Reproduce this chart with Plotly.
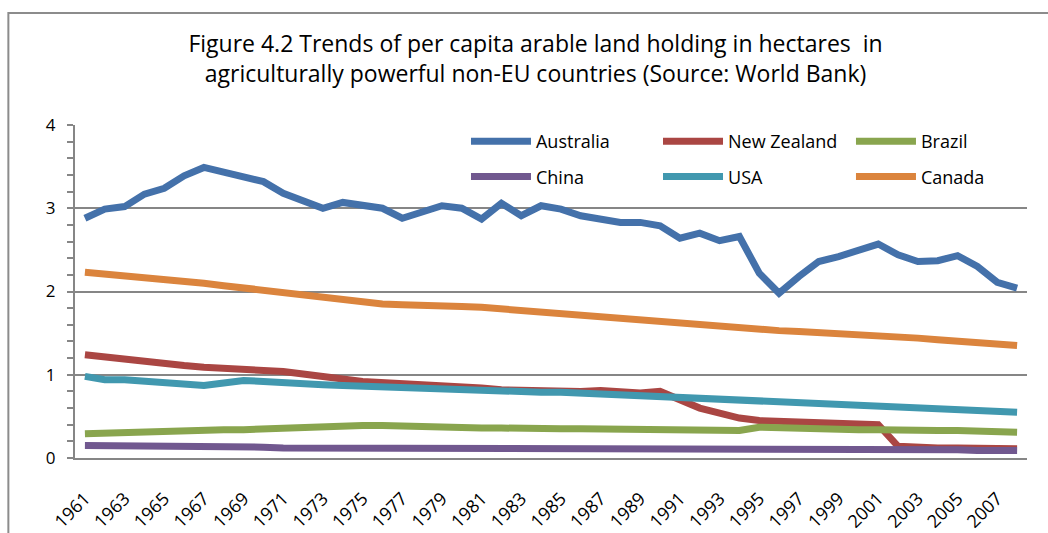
import plotly.graph_objects as go

# Per capita arable land (hectares), 1961-2008
years = list(range(1961, 2009))

australia = [2.88, 2.99, 3.02, 3.17, 3.24, 3.39, 3.49, 3.43, 3.37, 3.32,
             3.18, 3.09, 3.00, 3.07, 3.04, 3.00, 2.88, 2.96, 3.03, 3.00,
             2.87, 3.06, 2.91, 3.03, 2.99, 2.91, 2.87, 2.83, 2.83, 2.79,
             2.64, 2.70, 2.61, 2.66, 2.22, 1.98, 2.18, 2.36, 2.42, 2.49,
             2.57, 2.44, 2.36, 2.37, 2.43, 2.30, 2.11, 2.04]

new_zealand = [1.24, 1.21, 1.18, 1.15, 1.13, 1.11, 1.09, 1.08, 1.06, 1.05,
               1.04, 1.01, 0.97, 0.95, 0.92, 0.91, 0.90, 0.89, 0.88, 0.87,
               0.84, 0.82, 0.81, 0.80, 0.79, 0.80, 0.81, 0.79, 0.78, 0.80,
               0.70, 0.60, 0.54, 0.48, 0.45, 0.44, 0.43, 0.42, 0.42, 0.41,
               0.40, 0.14, 0.12, 0.12, 0.12, 0.11, 0.11, 0.11]

brazil = [0.29, 0.30, 0.31, 0.32, 0.32, 0.33, 0.33, 0.34, 0.34, 0.35,
          0.36, 0.38, 0.38, 0.38, 0.39, 0.39, 0.38, 0.37, 0.37, 0.36,
          0.36, 0.36, 0.35, 0.35, 0.35, 0.35, 0.35, 0.34, 0.34, 0.34,
          0.34, 0.33, 0.33, 0.33, 0.37, 0.36, 0.36, 0.35, 0.35, 0.34,
          0.34, 0.33, 0.33, 0.33, 0.33, 0.32, 0.32, 0.31]

china = [0.15, 0.15, 0.14, 0.14, 0.14, 0.14, 0.13, 0.13, 0.13, 0.13,
         0.12, 0.12, 0.12, 0.12, 0.11, 0.11, 0.11, 0.10, 0.10, 0.10,
         0.10, 0.10, 0.11, 0.11, 0.11, 0.11, 0.11, 0.11, 0.11, 0.11,
         0.11, 0.11, 0.10, 0.10, 0.10, 0.10, 0.10, 0.10, 0.10, 0.10,
         0.10, 0.10, 0.10, 0.10, 0.10, 0.09, 0.09, 0.09]

usa = [0.98, 0.94, 0.94, 0.92, 0.91, 0.89, 0.87, 0.90, 0.93, 0.92,
       0.90, 0.89, 0.88, 0.87, 0.86, 0.86, 0.85, 0.84, 0.84, 0.83,
       0.82, 0.81, 0.80, 0.79, 0.79, 0.78, 0.77, 0.75, 0.75, 0.74,
       0.73, 0.72, 0.71, 0.70, 0.69, 0.67, 0.66, 0.65, 0.64, 0.63,
       0.62, 0.62, 0.61, 0.60, 0.59, 0.57, 0.56, 0.55]

canada = [2.23, 2.21, 2.20, 2.18, 2.16, 2.14, 2.10, 2.07, 2.04, 2.01,
          1.98, 1.95, 1.93, 1.90, 1.87, 1.85, 1.84, 1.84, 1.83, 1.82,
          1.81, 1.79, 1.77, 1.76, 1.75, 1.73, 1.71, 1.69, 1.66, 1.64,
          1.62, 1.60, 1.58, 1.56, 1.55, 1.53, 1.52, 1.51, 1.50, 1.49,
          1.48, 1.46, 1.44, 1.42, 1.40, 1.38, 1.36, 1.35]

# name, values, colour, legend column
series = [
    ("Australia", australia, "#4471AA", "legend"),
    ("New Zealand", new_zealand, "#AA4643", "legend2"),
    ("Brazil", brazil, "#89A54E", "legend3"),
    ("China", china, "#71588F", "legend"),
    ("USA", usa, "#4198AF", "legend2"),
    ("Canada", canada, "#DB843D", "legend3"),
]

FONT = "Open Sans"
GRID = "#868686"

x_range = [years[0] - 0.5, years[-1] + 0.5]
# tick marks sit on the boundaries between the yearly categories
boundaries = [y - 0.5 for y in years] + [years[-1] + 0.5]

fig = go.Figure()
for name, vals, color, leg in series:
    fig.add_trace(go.Scatter(
        x=years, y=vals, name=name, mode="lines",
        line=dict(color=color, width=7),
        legend=leg, legendgroup=name,
    ))

legend_common = dict(
    orientation="v", xanchor="left", yanchor="top", y=1.006,
    font=dict(family=FONT, size=18, color="black"),
    bgcolor="rgba(0,0,0,0)", itemwidth=60, tracegroupgap=9,
)

fig.update_layout(
    width=1048, height=533,
    margin=dict(l=75, r=21, t=125, b=75),
    paper_bgcolor="white", plot_bgcolor="white",
    font=dict(family=FONT, color="black"),
    title=dict(
        text="Figure 4.2 Trends of per capita arable land holding in hectares  in<br>"
             "agriculturally powerful non-EU countries (Source: World Bank)",
        x=0.511, xanchor="center", y=0.903, yanchor="top",
        font=dict(family=FONT, size=23, color="black"),
    ),
    legend=dict(x=0.4107, **legend_common),
    legend2=dict(x=0.6124, **legend_common),
    legend3=dict(x=0.8151, **legend_common),
    xaxis=dict(
        range=x_range, automargin=False,
        tickmode="linear", tick0=years[0], dtick=2,
        tickangle=-45,
        # invisible major ticks keep the year labels clear of the axis
        ticks="outside", ticklen=21, tickcolor="rgba(0,0,0,0)",
        tickfont=dict(family=FONT, size=18, color="black"),
        showgrid=False, zeroline=False,
        showline=True, linecolor=GRID, linewidth=2,
    ),
    xaxis2=dict(
        overlaying="x", anchor="y", side="bottom",
        range=x_range, automargin=False,
        tickmode="array", tickvals=boundaries,
        showticklabels=False,
        ticks="outside", ticklen=6, tickcolor=GRID, tickwidth=1.5,
        showgrid=False, zeroline=False, showline=False,
    ),
    yaxis=dict(
        range=[0, 4], dtick=1, automargin=False,
        ticks="outside", ticklen=6, tickcolor=GRID, tickwidth=1.5,
        ticklabelstandoff=8,
        tickfont=dict(family=FONT, size=17, color="black"),
        showgrid=True, gridcolor=GRID, gridwidth=1.5,
        zeroline=False,
        showline=True, linecolor=GRID, linewidth=2,
        minor=dict(dtick=0.2, ticks="outside", ticklen=6,
                   tickcolor=GRID, tickwidth=1.5, showgrid=False),
    ),
    shapes=[
        # chart frame (left and top edges)
        dict(type="rect", xref="paper", yref="paper",
             x0=-0.07, x1=1.05, y0=-0.3, y1=1.336,
             line=dict(color="#8C8C8C", width=2), fillcolor="rgba(0,0,0,0)",
             layer="below"),
    ],
)

fig.write_html("out.html")
